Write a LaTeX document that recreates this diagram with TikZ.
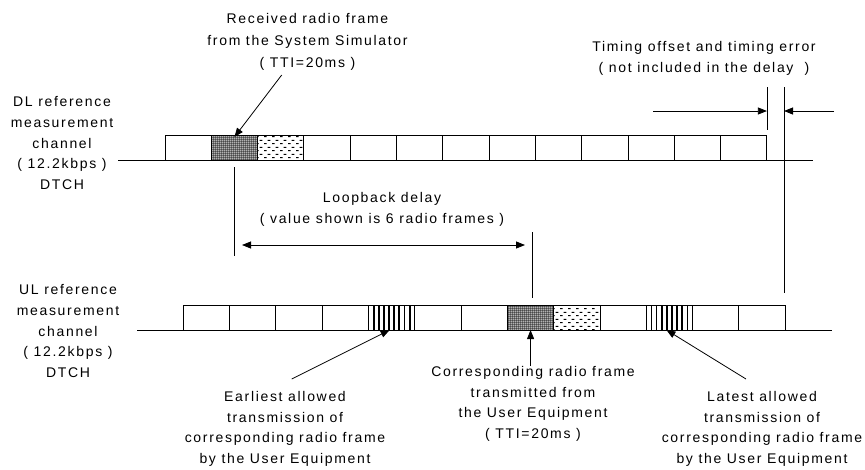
\documentclass[tikz,border=0pt]{standalone}
\usepackage{fontspec}
\setmainfont{Liberation Sans}[LetterSpace=12]
\usetikzlibrary{arrows.meta,patterns.meta}

\tikzdeclarepattern{name=fgrid, type=uncolored,
  bottom left={(0pt,0pt)}, top right={(2.4pt,2.4pt)}, tile size={(2.4pt,2.4pt)},
  code={\fill (0pt,0pt) rectangle (2.4pt,0.55pt); \fill (0pt,0pt) rectangle (0.55pt,2.4pt);}}
\tikzdeclarepattern{name=fdash, type=uncolored,
  bottom left={(0pt,0pt)}, top right={(8pt,6.6pt)}, tile size={(8pt,6.6pt)},
  code={\fill (0pt,1pt) rectangle (3pt,2pt); \fill (4pt,4.3pt) rectangle (7pt,5.3pt);}}

\begin{document}
\begin{tikzpicture}[x=1pt,y=-1pt,
  frame/.style={draw, line width=1pt, minimum width=46.3pt, minimum height=25pt, inner sep=0pt, outer sep=0pt},
  plain/.style={},
  dgrid/.style={preaction={fill=black!30}, pattern=fgrid, pattern color=black},
  dots/.style={pattern=fdash, pattern color=black},
  stripes/.style={path picture={\foreach \k in {1,...,8}
      \draw[line width=1.8pt] ([xshift={\k*46.3/9*1pt}]path picture bounding box.south west) -- ([xshift={\k*46.3/9*1pt}]path picture bounding box.north west);}},
  txt/.style={align=center, inner sep=0pt, font=\fontsize{14}{20.7}\selectfont},
  arr/.style={-{Triangle[length=9pt,width=7pt]}, line width=0.8pt},
  vline/.style={line width=0.8pt}
]
\useasboundingbox (0,0) rectangle (865,469);

% DL row
\coordinate (dlL) at (118,160);
\coordinate (dlR) at (813,160);
\draw[line width=1pt] (dlL) -- (dlR);
\foreach \i/\s in {1/plain,2/dgrid,3/dots,4/plain,5/plain,6/plain,7/plain,8/plain,9/plain,10/plain,11/plain,12/plain,13/plain}
  \node[frame,\s] (dl\i) at ({165+46.3*(\i-0.5)},147.5) {};

% UL row
\coordinate (ulL) at (137,330);
\coordinate (ulR) at (832,330);
\draw[line width=1pt] (ulL) -- (ulR);
\foreach \i/\s in {1/plain,2/plain,3/plain,4/plain,5/stripes,6/plain,7/plain,8/dgrid,9/dots,10/plain,11/stripes,12/plain,13/plain}
  \node[frame,\s] (ul\i) at ({183.3+46.3*(\i-0.5)},317.5) {};

% labels
\node[txt] (dllab) at (62,143) {DL reference\\measurement\\channel\\( 12.2kbps )\\DTCH};
\node[txt] (ullab) at (68,331) {UL reference\\measurement\\channel\\( 12.2kbps )\\DTCH};

\node[txt, font=\fontsize{14}{22}\selectfont] (recv) at (307.5,41.5) {Received radio frame\\from the System Simulator\\( TTI=20ms )};
\coordinate (recvT) at (281.7,75);
\draw[arr] (recvT) -- ([yshift=-2pt]dl2.north);

\node[txt] (timing) at (704,58.5) {Timing offset and timing error\\( not included in the delay\ \ )};
\coordinate (t1top) at (766.9,87);
\coordinate (t1bot) at (766.9,130);
\draw[vline] (t1top) -- (t1bot);
\coordinate (t2top) at (784,87);
\coordinate (t2bot) at (784,293);
\draw[vline] (t2top) -- (t2bot);
\coordinate (ta) at (653,111);
\coordinate (tb) at (834,111);
\draw[arr] (ta) -- (t1top |- ta);
\draw[arr] (tb) -- (t2top |- tb);

% loopback
\node[txt] (loop) at (382,209.5) {Loopback delay\\( value shown is 6 radio frames )};
\coordinate (lv1a) at (234.5,167);
\coordinate (lv1b) at (234.5,256);
\draw[vline] (lv1a) -- (lv1b);
\coordinate (lv2a) at (532,232);
\coordinate (lv2b) at (532,298);
\draw[vline] (lv2a) -- (lv2b);
\coordinate (la) at (242,245);
\coordinate (lb) at (525,245);
\draw[arr, {Triangle[length=9pt,width=7pt]}-{Triangle[length=9pt,width=7pt]}] (la) -- (lb);

% bottom annotations
\node[txt] (corr) at (533,404) {Corresponding radio frame\\transmitted from\\the User Equipment\\( TTI=20ms )};
\draw[arr] (corr.north -| ul8.south) -- (ul8.south);

\node[txt] (early) at (285,429) {Earliest allowed\\transmission of\\corresponding radio frame\\by the User Equipment};
\coordinate (earlyT) at (291.7,379);
\draw[arr] (earlyT) -- ([xshift=-2pt]ul5.south);

\node[txt] (late) at (762,429) {Latest allowed\\transmission of\\corresponding radio frame\\by the User Equipment};
\coordinate (lateT) at (746,379);
\draw[arr] (lateT) -- ([xshift=-3pt]ul11.south);
\end{tikzpicture}
\end{document}
